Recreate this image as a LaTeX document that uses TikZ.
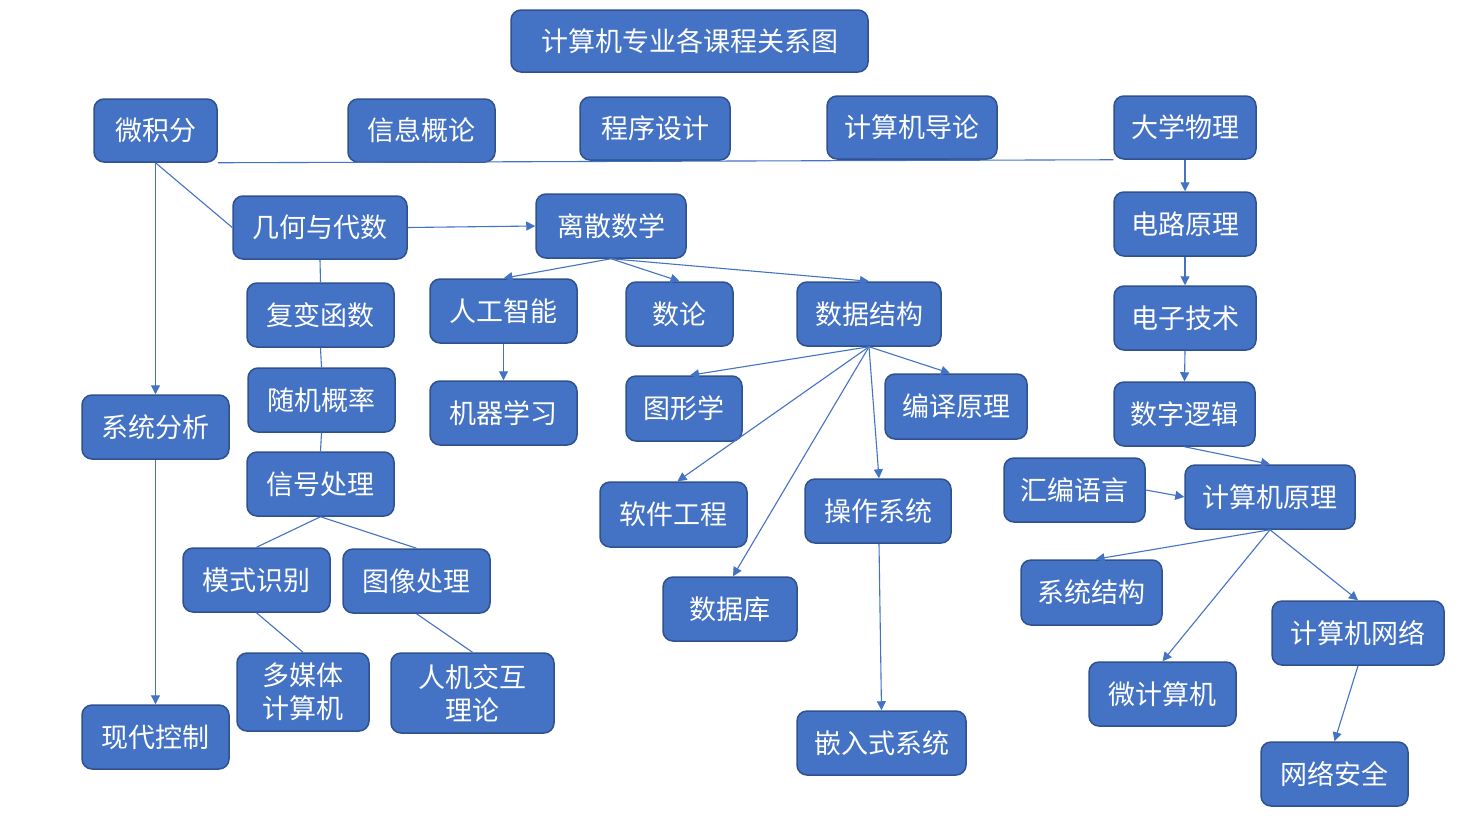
\documentclass[tikz,border=0pt]{standalone}
\usepackage{fontspec}
\newfontfamily\cjk{Noto Sans CJK SC}
\usetikzlibrary{arrows.meta}
\definecolor{boxfill}{HTML}{4472C4}
\definecolor{boxedge}{HTML}{2F528F}
\definecolor{linkcol}{HTML}{4472C4}
\tikzset{
  cbox/.style={draw=boxedge, line width=1.5pt, fill=boxfill, rounded corners=10pt,
    text=white, font=\cjk\fontsize{27}{31}\selectfont, align=center, inner sep=0pt},
  link/.style={draw=linkcol, line width=1.1pt},
  arr/.style={link, -{Triangle[length=9pt,width=9pt]}}
}
% \course{name}{cx}{cy}{width}{height}{text}
\newcommand\course[6]{\node[cbox, minimum width=#4pt, minimum height=#5pt] (#1) at (#2,#3) {#6};}
\begin{document}
\begin{tikzpicture}[x=1pt,y=-1pt]
\useasboundingbox (0,0) rectangle (1461,817);
\fill[white] (0,0) rectangle (1461,817);

\course{title}{689.5}{41}{357}{62}{计算机专业各课程关系图}
\course{wjf}{155.5}{130.5}{123}{63}{微积分}
\course{xx}{421.5}{130.5}{147}{63}{信息概论}
\course{cx}{655}{128.5}{150}{63}{程序设计}
\course{dl}{912}{127.5}{170}{63}{计算机导论}
\course{wl}{1185}{127.5}{142}{63}{大学物理}
\course{jh}{320}{227.5}{174}{63}{几何与代数}
\course{ls}{611}{226}{150}{64}{离散数学}
\course{dlu}{1185}{224}{142}{64}{电路原理}
\course{fb}{320.5}{315}{147}{64}{复变函数}
\course{rg}{503.5}{311}{147}{64}{人工智能}
\course{sl}{679.5}{314}{107}{64}{数论}
\course{sj}{869}{314}{144}{64}{数据结构}
\course{dz}{1185}{318}{142}{64}{电子技术}
\course{xf}{155.5}{427}{147}{64}{系统分析}
\course{sg}{321.5}{400}{147}{64}{随机概率}
\course{jq}{503.5}{413}{147}{64}{机器学习}
\course{tx}{684}{408.5}{116}{65}{图形学}
\course{by}{956}{406.5}{142}{65}{编译原理}
\course{sz}{1184.5}{414}{141}{64}{数字逻辑}
\course{xh}{320.5}{484}{147}{64}{信号处理}
\course{rjg}{673.5}{514.5}{147}{65}{软件工程}
\course{cz}{878}{511}{146}{64}{操作系统}
\course{hb}{1074.5}{490}{141}{64}{汇编语言}
\course{jy}{1270}{497}{170}{64}{计算机原理}
\course{ms}{256.5}{580}{147}{64}{模式识别}
\course{tc}{416.5}{581}{147}{64}{图像处理}
\course{sk}{730}{609}{134}{64}{数据库}
\course{jg}{1091.5}{592.5}{141}{65}{系统结构}
\course{wg}{1358}{633}{172}{64}{计算机网络}
\course{dm}{303}{692}{132}{78}{多媒体\\[2pt]计算机}
\course{rj}{472.5}{693}{163}{80}{人机交互\\[2pt]理论}
\course{wj}{1162.5}{694}{147}{64}{微计算机}
\course{xk}{155.5}{737}{147}{64}{现代控制}
\course{qr}{881.5}{743}{169}{64}{嵌入式系统}
\course{aq}{1334.5}{774}{147}{64}{网络安全}

% plain links
\draw[link] (wjf.south east) -- (wl.south west);
\draw[link] (wjf.south) -- (jh.west);
\draw[link] (jh.south) -- (fb.north);
\draw[link] (fb.south) -- (sg.north);
\draw[link] (sg.south) -- (xh.north);
\draw[link] (xh.south) -- (ms.north);
\draw[link] (xh.south) -- (tc.north);
\draw[link] (ms.south) -- (dm.north);
\draw[link] (tc.south) -- (rj.north);

% arrows
\draw[arr] (wjf.south) -- (xf.north);
\draw[arr] (xf.south) -- (xk.north);
\draw[arr] (jh.east) -- (ls.west);
\draw[arr] (ls.south) -- (rg.north);
\draw[arr] (ls.south) -- (sl.north);
\draw[arr] (ls.south) -- (sj.north);
\draw[arr] (rg.south) -- (jq.north);
\draw[arr] (sj.south) -- ([xshift=6pt]tx.north);
\draw[arr] (sj.south) -- ([xshift=4pt]rjg.north);
\draw[arr] (sj.south) -- ([xshift=3pt]sk.north);
\draw[arr] (sj.south) -- ([xshift=1pt]cz.north);
\draw[arr] (sj.south) -- ([xshift=-6pt]by.north);
\draw[arr] ([xshift=1pt]cz.south) -- (qr.north);
\draw[arr] (wl.south) -- (dlu.north);
\draw[arr] (dlu.south) -- (dz.north);
\draw[arr] (dz.south) -- (sz.north);
\draw[arr] (sz.south) -- (jy.north);
\draw[arr] (hb.east) -- (jy.west);
\draw[arr] (jy.south) -- ([xshift=4pt]jg.north);
\draw[arr] (jy.south) -- (wj.north);
\draw[arr] (jy.south) -- (wg.north);
\draw[arr] (wg.south) -- (aq.north);
\end{tikzpicture}
\end{document}
